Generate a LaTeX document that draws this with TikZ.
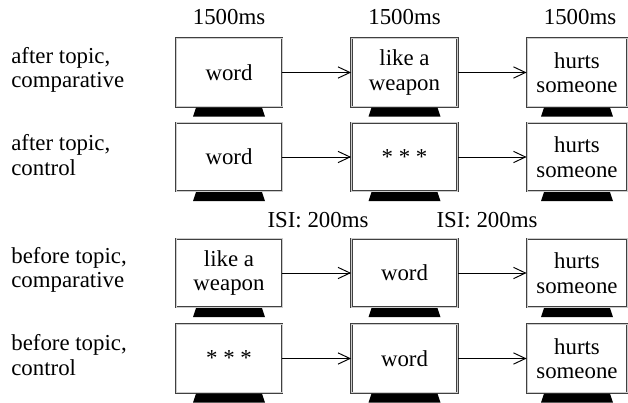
\documentclass[tikz,border=0pt]{standalone}
\usepackage{fontspec}
\setmainfont{Liberation Serif}
\usetikzlibrary{arrows.meta}

\begin{document}
\begin{tikzpicture}[x=0.02cm,y=-0.02cm,
	font=\fontsize{13pt}{13.9pt}\selectfont,
	monitor/.style={draw=black!75,double=gray!40,double distance=0.5pt,line width=0.45pt,
		fill=white,minimum width=2.12cm,minimum height=1.37cm,align=center,inner sep=1pt},
	flow/.style={-{Straight Barb[length=6.8pt,width=6.4pt]},line width=0.55pt},
	cond/.style={anchor=west,align=left,inner sep=0pt}]
	\useasboundingbox (0,0) rectangle (628,402);
	%% stimulus durations
	\node (t1) at (229,17) {1500ms};
	\node (t2) at (404.5,17) {1500ms};
	\node (t3) at (580,17) {1500ms};
	\node (isi1) at (318,220) {ISI: 200ms};
	\node (isi2) at (487,220) {ISI: 200ms};
	%% conditions
	\node[cond] (la) at (11,70) {after topic,\\comparative};
	\node[cond] (lb) at (11,155) {after topic,\\control};
	\node[cond] (lc) at (11,270) {before topic,\\comparative};
	\node[cond] (ld) at (11,355) {before topic,\\control};
	%% screens
	\node[monitor] (a1) at (229,72.5) {word};
	\node[monitor] (a2) at (404.5,72.5) {like a\\weapon};
	\node[monitor,minimum width=2cm] (a3) at (577,72.5) {hurts\\someone};
	\node[monitor] (b1) at (229,157) {word};
	\node[monitor] (b2) at (404.5,157) {* * *};
	\node[monitor,minimum width=2cm] (b3) at (577,157) {hurts\\someone};
	\node[monitor] (c1) at (229,273) {like a\\weapon};
	\node[monitor] (c2) at (404.5,273) {word};
	\node[monitor,minimum width=2cm] (c3) at (577,273) {hurts\\someone};
	\node[monitor] (d1) at (229,358.5) {* * *};
	\node[monitor] (d2) at (404.5,358.5) {word};
	\node[monitor,minimum width=2cm] (d3) at (577,358.5) {hurts\\someone};
	%% stands
	\foreach \n in {a1,a2,a3,b1,b2,b3,c1,c2,c3,d1,d2,d3}
		\fill (\n.south) +(-33,0.5) -- +(33,0.5) -- +(36,9.5) -- +(-36,9.5) -- cycle;
	%% sequence
	\foreach \r in {a,b,c,d} {
		\draw[flow] (\r1) -- (\r2);
		\draw[flow] (\r2) -- (\r3);
	}
\end{tikzpicture}
\end{document}
